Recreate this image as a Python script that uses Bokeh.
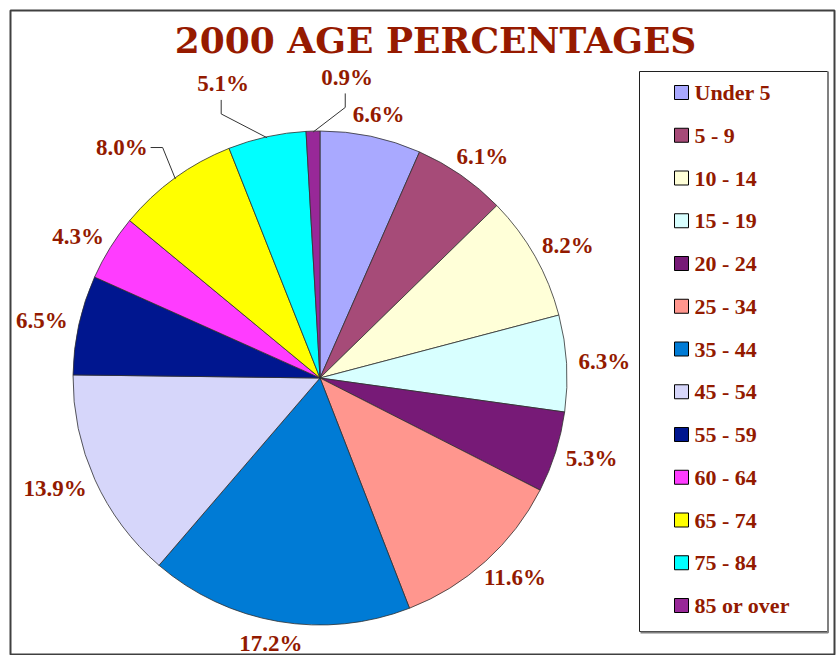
import numpy as np
from bokeh.plotting import figure
from bokeh.models import Range1d, ColumnDataSource, Label
from bokeh.core.properties import value
from bokeh.embed import file_html
from bokeh.resources import INLINE

# ---------------- data ----------------
title_text = "2000 AGE PERCENTAGES"
age_groups = ["Under 5", "5 - 9", "10 - 14", "15 - 19", "20 - 24", "25 - 34",
              "35 - 44", "45 - 54", "55 - 59", "60 - 64", "65 - 74", "75 - 84",
              "85 or over"]
percents = [6.6, 6.1, 8.2, 6.3, 5.3, 11.6, 17.2, 13.9, 6.5, 4.3, 8.0, 5.1, 0.9]
slice_colors = ["#A9A9FF", "#A64B78", "#FFFFD8", "#D8FFFF", "#771A77", "#FF968E",
                "#007BD5", "#D6D6FA", "#00168F", "#FF3CFF", "#FFFF00", "#00FFFF",
                "#982898"]

# ---------------- layout / style ----------------
TEXT_RED = "#931A00"
FW, FH = 824, 645            # frame size in px == data units
W, H = FW + 12, FH + 10
CX, CY, R = 309.5, 277.5, 247
LABEL_FS = 23
LEGEND_FS = 22

p = figure(width=W, height=H, x_range=Range1d(0, FW), y_range=Range1d(0, FH),
           output_backend="svg", toolbar_location=None,
           x_axis_location=None, y_axis_location=None,
           min_border_left=10, min_border_right=2, min_border_top=10,
           min_border_bottom=0)
p.grid.visible = False
p.outline_line_color = "#404040"
p.outline_line_width = 2
p.background_fill_color = "white"
p.border_fill_color = "white"

# ---------------- pie ----------------
frac = np.array(percents) / sum(percents)
cum_end = np.cumsum(frac)
cum_start = cum_end - frac
start_angle = np.pi / 2 - 2 * np.pi * cum_end
end_angle = np.pi / 2 - 2 * np.pi * cum_start

pie_src = ColumnDataSource(dict(start=start_angle, end=end_angle, color=slice_colors,
                                group=age_groups, pct=percents))
p.wedge(x=CX, y=CY, radius=R, start_angle="start", end_angle="end",
        fill_color="color", line_color="#303030", line_width=0.8, source=pie_src)

# ---------------- data labels ----------------
mid = (cum_start + cum_end) / 2
theta = 2 * np.pi * mid          # clockwise from 12 o'clock
label_text = [f"{v:.1f}%" for v in percents]

# labels moved by hand in the original (angle shift deg, distance, leader type)
moved = {10: (-4.7, 304, "side"), 11: (-5.8, 309.6, "below"), 12: (6.8, 301.8, "below")}

lx, ly, lead_xs, lead_ys = [], [], [], []
for i, t in enumerate(theta):
    s = label_text[i]
    ndig = sum(c.isdigit() for c in s)
    hw = 0.5 * LABEL_FS * (0.5 * ndig + 0.25 + 1.0)
    ux, uy = np.sin(t), np.cos(t)
    if i in moved:
        da, dist, kind = moved[i]
        ta = t + np.radians(da)
        x = CX + dist * np.sin(ta)
        y = CY + dist * np.cos(ta)
        ex, ey = CX + (R - 1) * ux, CY + (R - 1) * uy
        if kind == "side":
            ax, ay = x + hw + 3, y
            bx, by = ax + 12, ay
        else:
            ax, ay = x - 2, y - 16
            bx, by = ax, ay - 14
        lead_xs.append([ax, bx, ex])
        lead_ys.append([ay, by, ey])
    else:
        x = CX + (R + 12) * ux + ux * hw
        y = CY + (R + 12) * uy + uy * 10
    lx.append(x)
    ly.append(y)

p.multi_line(xs=lead_xs, ys=lead_ys, line_color="#333333", line_width=1)
p.text(x=lx, y=ly, text=label_text, text_align="center", text_baseline="middle",
       text_font=value("Liberation Serif"), text_font_style="bold",
       text_font_size=f"{LABEL_FS}px", text_color=TEXT_RED)

# ---------------- title ----------------
p.add_layout(Label(x=425, y=616, text=title_text, text_align="center",
                   text_baseline="middle", text_font="DejaVu Serif",
                   text_font_style="bold", text_font_size="36px",
                   text_color="#961A00"))

# ---------------- legend ----------------
p.quad(left=629, right=817, bottom=24, top=584, fill_color="white",
       line_color="#202020", line_width=1)
p.line(x=[630, 817.5, 817.5], y=[23, 23, 584], line_color="#808080", line_width=2)
leg_y = [563 - i * 42.75 for i in range(len(age_groups))]
p.rect(x=671, y=leg_y, width=14, height=14, fill_color=slice_colors,
       line_color="black", line_width=1)
p.text(x=684, y=leg_y, text=age_groups, text_align="left", text_baseline="middle",
       text_font=value("Liberation Serif"), text_font_style="bold",
       text_font_size=f"{LEGEND_FS}px", text_color=TEXT_RED)

open("out.html", "w").write(file_html(p, INLINE))
